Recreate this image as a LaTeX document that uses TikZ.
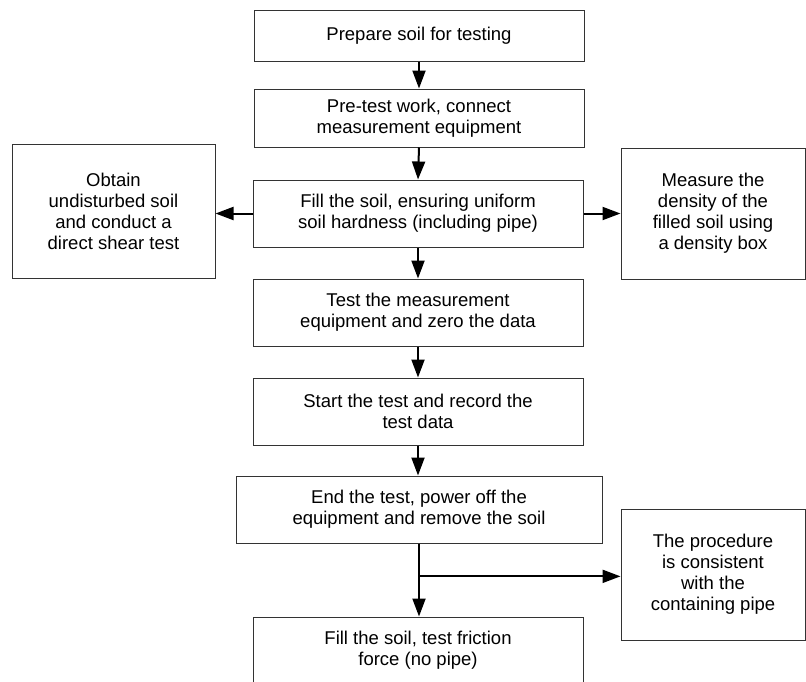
\documentclass[tikz,border=0pt]{standalone}
\usepackage{fontspec}
\setmainfont{Liberation Sans}
\usetikzlibrary{arrows.meta,calc}
\begin{document}
\begin{tikzpicture}[x=1pt,y=-1pt,
  box/.style={draw=black!80, line width=1pt, rectangle, align=center, inner sep=2pt,
    font=\fontsize{18.5}{21}\selectfont, text=black},
  arr/.style={line width=2pt, -{Triangle[length=18pt,width=13pt]}},
  ln/.style={line width=2pt}]
\useasboundingbox (0,0) rectangle (806,681);
\clip (0,0) rectangle (806,681);
\node[box, minimum width=330pt, minimum height=51pt] (b1) at (419,35.5) {Prepare soil for testing};
\node[box, minimum width=330pt, minimum height=58pt] (b2) at (419,118) {Pre-test work, connect\\measurement equipment};
\node[box, minimum width=330pt, minimum height=67pt] (b3) at (418,213.5) {Fill the soil, ensuring uniform\\soil hardness (including pipe)};
\node[box, minimum width=203pt, minimum height=134pt] (lf) at (113.5,211) {Obtain\\undisturbed soil\\and conduct a\\direct shear test};
\node[box, minimum width=184pt, minimum height=131pt] (rt) at (713,213.5) {Measure the\\density of the\\filled soil using\\a density box};
\node[box, minimum width=330pt, minimum height=67pt] (b4) at (418,312.5) {Test the measurement\\equipment and zero the data};
\node[box, minimum width=330pt, minimum height=67pt] (b5) at (418,411.5) {Start the test and record the\\test data};
\node[box, minimum width=366pt, minimum height=67pt] (b6) at (419,509.5) {End the test, power off the\\equipment and remove the soil};
\node[box, minimum width=184pt, minimum height=131pt] (r2) at (713,574.5) {The procedure\\is consistent\\with the\\containing pipe};
\node[box, minimum width=330pt, minimum height=67pt] (b7) at (418,650.5) {Fill the soil, test friction\\force (no pipe)};
\draw[arr] (b1.south) -- (b2.north);
\draw[arr] (b2.south) -- (b3.north);
\draw[arr] (b3.south) -- (b4.north);
\draw[arr] (b4.south) -- (b5.north);
\draw[arr] (b5.south) -- (b5.south |- b6.north);
\draw[arr] (b3.west) -- (b3.west -| lf.east);
\draw[arr] (b3.east) -- (b3.east -| rt.west);
\draw[arr] (b6.south) -- (b6.south |- b7.north);
\coordinate (br) at ($(b6.south)!0.45!(b6.south |- b7.north)$);
\draw[arr] (br) -- (br -| r2.west);
\end{tikzpicture}
\end{document}
